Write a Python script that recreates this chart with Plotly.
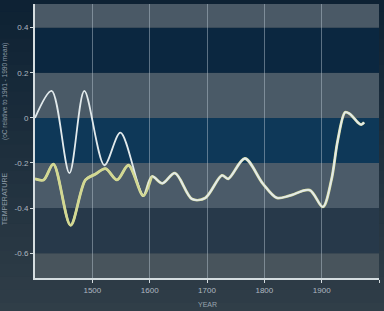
import plotly.graph_objects as go

# ---- data ----
white_years = [1400, 1429, 1460, 1486, 1521, 1549, 1589]
white_temps = [0.0, 0.12, -0.245, 0.12, -0.21, -0.065, -0.345]

yellow_years = [1400, 1415, 1432, 1462, 1488, 1505, 1523, 1543, 1563, 1589,
                1604, 1622, 1644, 1674, 1697, 1726, 1737, 1766, 1797, 1822,
                1844, 1879, 1902, 1917, 1928, 1941, 1949, 1956, 1963, 1969, 1974]
yellow_temps = [-0.27, -0.275, -0.205, -0.476, -0.275, -0.25, -0.225, -0.275, -0.21, -0.345,
                -0.26, -0.29, -0.245, -0.36, -0.355, -0.255, -0.27, -0.18, -0.29, -0.355,
                -0.345, -0.32, -0.395, -0.275, -0.1, 0.025, 0.018, 0.0, -0.02, -0.03, -0.02]

x_tick_vals = [1500, 1600, 1700, 1800, 1900, 2000]
x_tick_text = ["1500", "1600", "1700", "1800", "1900", ""]
y_tick_vals = [-0.6, -0.4, -0.2, 0, 0.2, 0.4]
y_tick_text = ["-0.6", "-0.4", "-0.2", "0", "0.2", "0.4"]

band_edges = [-0.71, -0.6, -0.4, -0.2, 0.0, 0.2, 0.4, 0.505]
band_colors = ["#48545c", "#27394a", "#4b5b69", "#0e3858", "#4a5a67", "#0b2740", "#4a5966"]

# white series continues along the shared part of the yellow one
tail_start = yellow_years.index(1589) + 1
white_all_years = white_years + yellow_years[tail_start:]
white_all_temps = white_temps + yellow_temps[tail_start:]

fig = go.Figure()
fig.add_trace(go.Scatter(x=yellow_years, y=yellow_temps, mode="lines",
                         line=dict(color="#d8dc9c", width=2.8, shape="spline", smoothing=0.9),
                         hoverinfo="skip", showlegend=False))
fig.add_trace(go.Scatter(x=white_all_years, y=white_all_temps, mode="lines",
                         line=dict(color="#e2eaec", width=1.8, shape="spline", smoothing=0.9),
                         hoverinfo="skip", showlegend=False))
# yellow drawn again only where it separates (early years) so it stays on top there
sep = yellow_years.index(1604) + 1
fig.add_trace(go.Scatter(x=yellow_years[:sep], y=yellow_temps[:sep], mode="lines",
                         line=dict(color="#d2d892", width=2.2, shape="spline", smoothing=0.9),
                         hoverinfo="skip", showlegend=False))

shapes = []
# background gradient (paper)
n = 24
top = (14, 34, 52)
bot = (48, 62, 72)
for i in range(n):
    t = i / (n - 1)
    c = tuple(int(top[k] + (bot[k] - top[k]) * t) for k in range(3))
    y1 = 1.02 - i * (1.16 / n)
    y0 = y1 - 1.16 / n - 0.005
    shapes.append(dict(type="rect", xref="paper", yref="paper", x0=-0.15, x1=1.05,
                       y0=y0, y1=y1, fillcolor="rgb(%d,%d,%d)" % c, line_width=0, layer="below"))
for i, col in enumerate(band_colors):
    shapes.append(dict(type="rect", xref="paper", yref="y", x0=0, x1=1,
                       y0=band_edges[i], y1=band_edges[i + 1], fillcolor=col,
                       line_width=0, layer="below"))

fig.update_layout(
    width=384, height=311,
    margin=dict(l=35, r=5, t=4, b=33),
    paper_bgcolor="#1c3040",
    plot_bgcolor="#1c3040",
    shapes=shapes,
    font=dict(family="Liberation Sans, Arial, sans-serif", color="#aeb8c0", size=8),
    xaxis=dict(range=[1400, 2000], tickvals=x_tick_vals, ticktext=x_tick_text,
               showgrid=True, gridcolor="rgba(190,205,215,0.45)", gridwidth=1,
               showline=True, linecolor="#d5dde0", linewidth=2,
               ticks="outside", ticklen=3, tickcolor="#d5dde0", tickwidth=1,
               zeroline=False, tickfont=dict(size=8, color="#aeb8c0")),
    yaxis=dict(range=[-0.71, 0.505], tickvals=y_tick_vals, ticktext=y_tick_text,
               showgrid=False, showline=True, linecolor="#d5dde0", linewidth=2,
               ticks="outside", ticklen=3, tickcolor="#d5dde0", tickwidth=1,
               zeroline=False, tickfont=dict(size=8, color="#aeb8c0")),
    annotations=[
        dict(text="YEAR", xref="paper", yref="paper", x=0.5, y=-0.075, showarrow=False,
             font=dict(size=7, color="#98a4ae"), xanchor="center", yanchor="top"),
        dict(text="TEMPERATURE", xref="paper", yref="paper", x=-0.072, y=0.29,
             showarrow=False, textangle=-90, font=dict(size=7, color="#8e9ca8"),
             xanchor="right", yanchor="middle"),
        dict(text="(oC relative to 1961 - 1990 mean)", xref="paper", yref="paper",
             x=-0.072, y=0.68, showarrow=False, textangle=-90,
             font=dict(size=6.5, color="#8e9ca8"), xanchor="right", yanchor="middle"),
    ],
)

fig.write_html("out.html")
